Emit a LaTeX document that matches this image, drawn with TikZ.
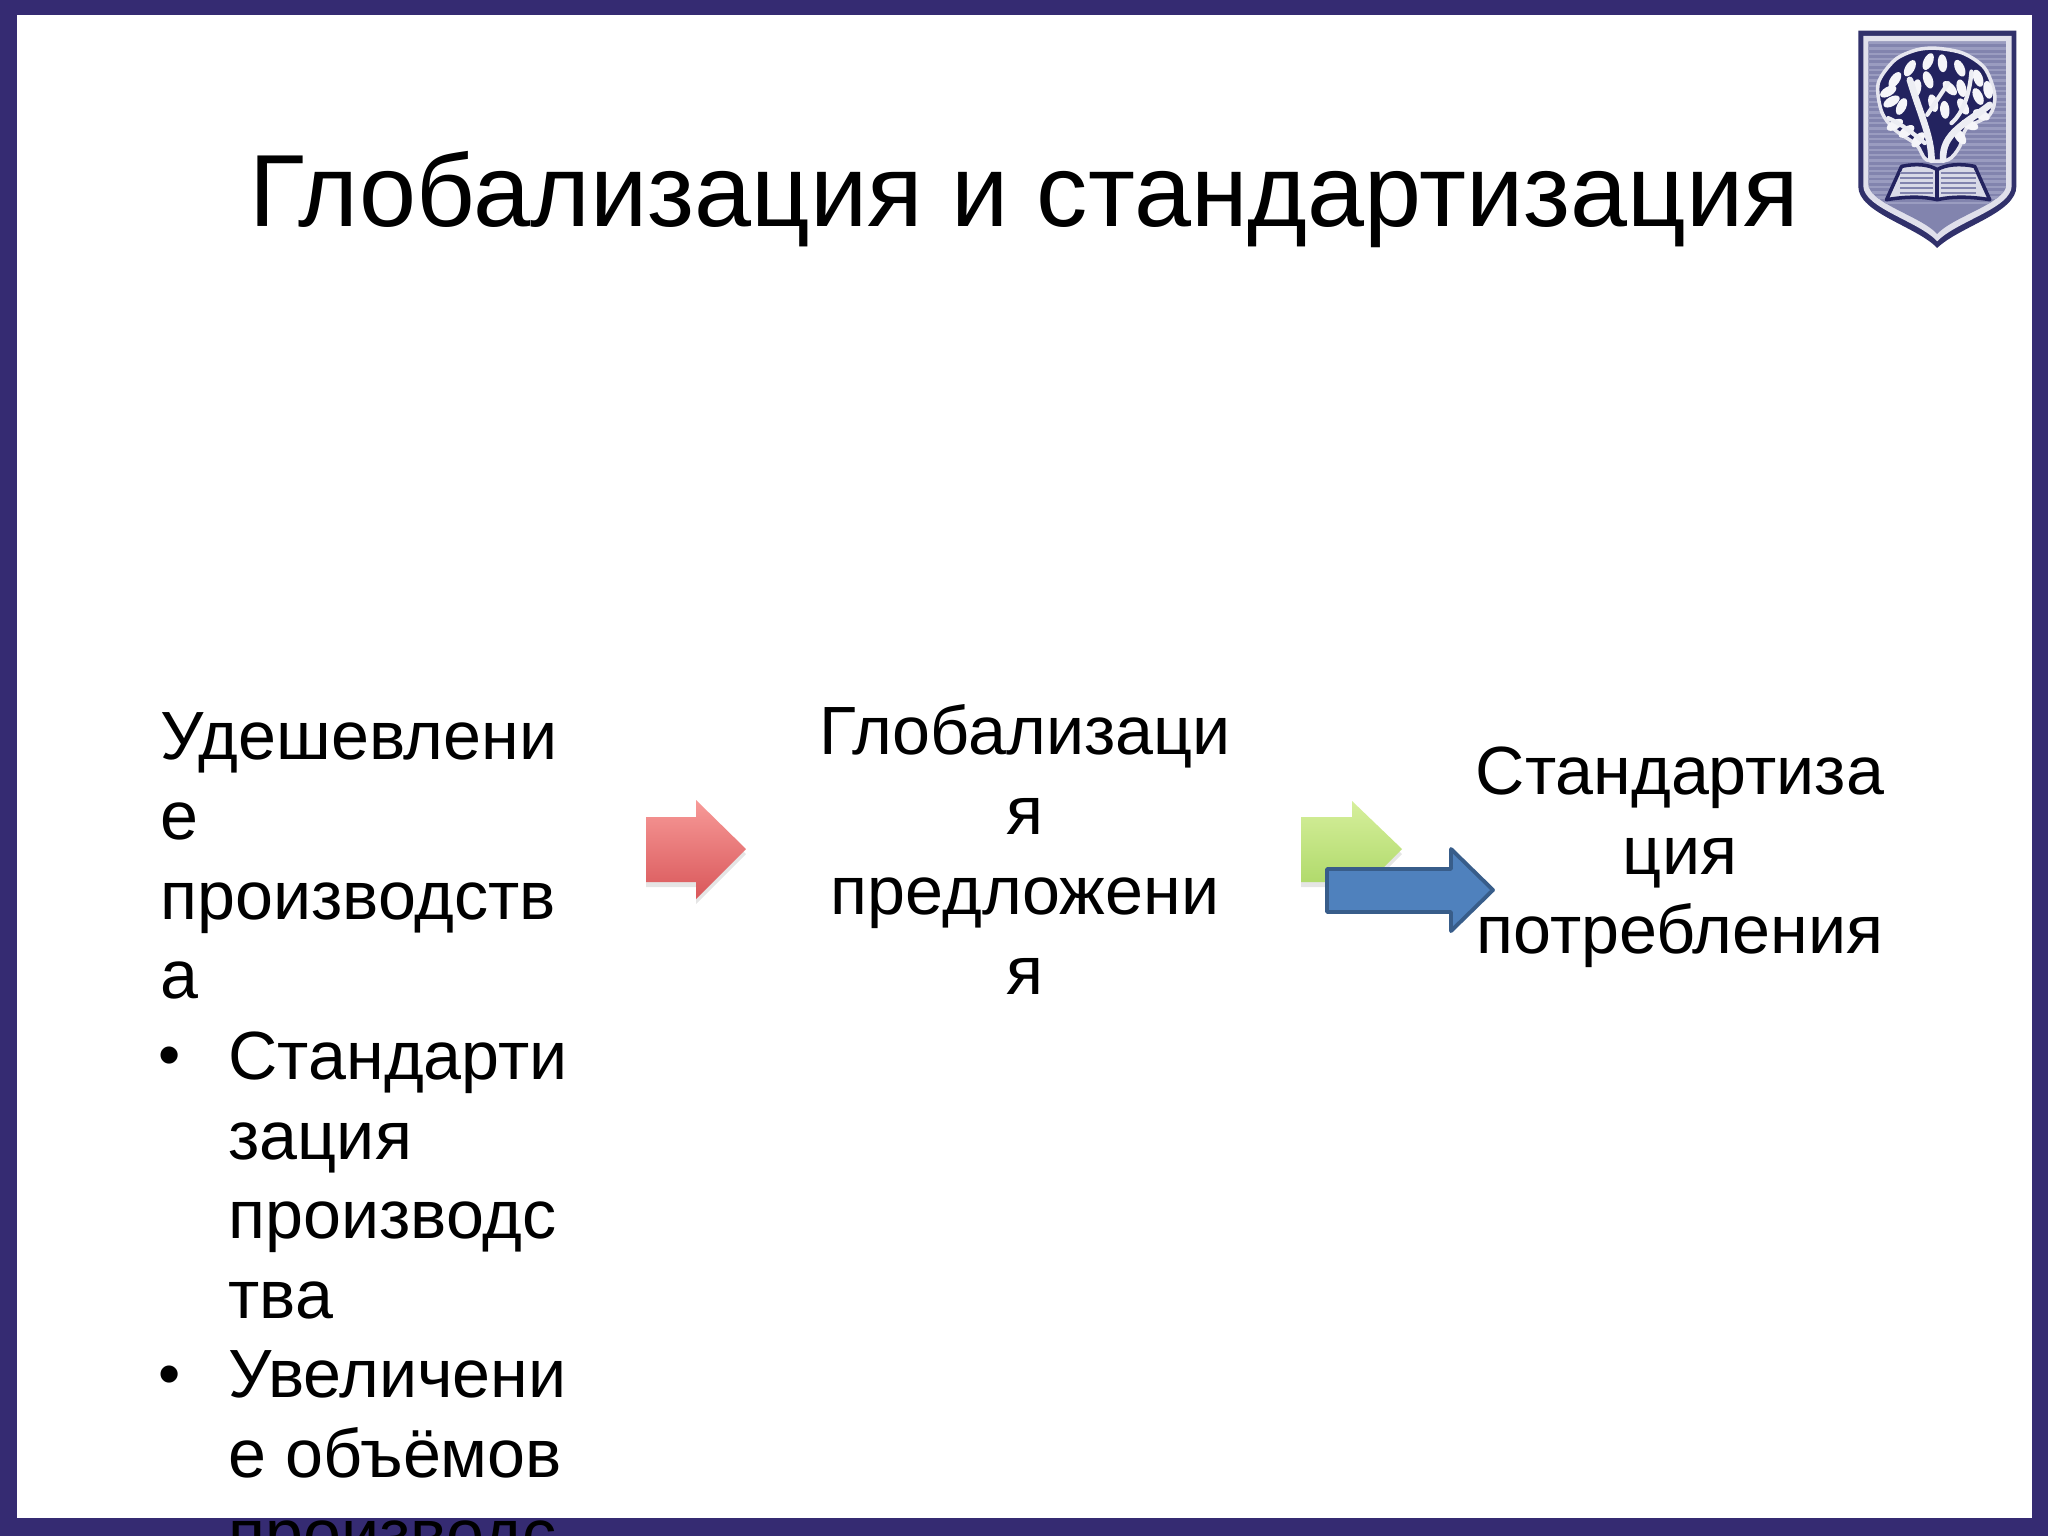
\documentclass[tikz,border=0pt]{standalone}
\usepackage{fontspec}
\setmainfont{Liberation Sans}
\definecolor{frameblue}{HTML}{352B72}
\definecolor{shielddark}{HTML}{23235F}
\definecolor{shieldmid}{HTML}{8284AE}
\definecolor{shieldlight}{HTML}{9A9CC0}
\definecolor{redtop}{HTML}{F79A98}
\definecolor{redbottom}{HTML}{D9575A}
\definecolor{greentop}{HTML}{D6EF9C}
\definecolor{greenbottom}{HTML}{A9D662}
\definecolor{bluefill}{HTML}{4F81BD}
\definecolor{blueedge}{HTML}{385D8A}
\tikzset{
	titletext/.style={font=\fontsize{29.15}{33}\selectfont, inner sep=0pt, anchor=base},
	bodytext/.style={font=\fontsize{19.4}{22.68}\selectfont, inner sep=0pt},
	dottext/.style={font=\fontsize{18}{20}\selectfont, inner sep=0pt, anchor=center},
	blockarrow/.style={line join=round},
	leaf/.style={fill=white!92!shieldmid, draw=none}
}
\begin{document}
\begin{tikzpicture}[x=0.01cm, y=-0.01cm]
	\clip (0,0) rectangle (2048,1536);
	
	% Frame
	\fill[frameblue] (0,0) rectangle (2048,1536);
	\fill[white] (17,15) rectangle (2032,1518);
	
	% Title
	\node[titletext] (title) at (1024,226) {Глобализация и стандартизация};
	
	% Left column
	\node[bodytext, anchor=north west, align=left] (cheaper) at (160,712) {Удешевлени\\е\\производств\\а};
	\node[bodytext, anchor=north west, align=left] (itemone) at (228,1031) {Стандарти\\зация\\производс\\тва};
	\node[bodytext, anchor=north west, align=left] (itemtwo) at (228,1350) {Увеличени\\е объёмов\\производс};
	\node[dottext] (dotone) at (170,1062) {•};
	\node[dottext] (dottwo) at (170,1381) {•};
	
	% Middle and right columns
	\node[bodytext, anchor=north, align=center] (supply) at (1025,704) {Глобализаци\\я\\предложени\\я};
	\node[bodytext, anchor=north, align=center] (demand) at (1680,746) {Стандартиза\\ция\\потребления};
	
	% Arrows
	\fill[black, opacity=0.1] (646,822) -- (696,822) -- (696,805) -- (746,854) -- (696,904) -- (696,887) -- (646,887) -- cycle;
	\shade[blockarrow, top color=redtop, bottom color=redbottom] (646,817) -- (696,817) -- (696,800) -- (746,849) -- (696,899) -- (696,882) -- (646,882) -- cycle;
	\fill[black, opacity=0.1] (1301,822) -- (1352,822) -- (1352,806) -- (1402,854) -- (1352,904) -- (1352,887) -- (1301,887) -- cycle;
	\shade[blockarrow, top color=greentop, bottom color=greenbottom] (1301,817) -- (1352,817) -- (1352,801) -- (1402,849) -- (1352,899) -- (1352,882) -- (1301,882) -- cycle;
	\filldraw[blockarrow, fill=bluefill, draw=blueedge, line width=1.1pt] (1327,869) -- (1451,869) -- (1451,849) -- (1493,890) -- (1451,931) -- (1451,912) -- (1327,912) -- cycle;
	
	% Shield
	\begin{scope}[shift={(1820,0)}, x=0.00333cm, y=-0.00333cm]
		\fill[shielddark!85!shieldmid] (115,92) -- (590,92) -- (590,560) .. controls (590,640) and (420,680) .. (352,745) .. controls (290,680) and (115,640) .. (115,560) -- cycle;
		\fill[white!75!shieldmid] (130,108) -- (576,108) -- (576,558) .. controls (576,625) and (410,665) .. (352,725) .. controls (298,665) and (130,625) .. (130,558) -- cycle;
		\begin{scope}
			\clip (145,124) -- (561,124) -- (561,552) .. controls (561,610) and (400,650) .. (352,703) .. controls (305,650) and (145,610) .. (145,552) -- cycle;
			\fill[shieldmid] (145,124) rectangle (561,710);
			\foreach \y in {130,146,...,620} {
				\draw[shieldlight, line width=0.7pt] (145,\y) -- (561,\y);
			}
		\end{scope}
		
		% Tree
		\filldraw[fill=shielddark, draw=white!80!shieldmid, line width=1pt] plot[smooth cycle] coordinates {(350,145) (430,160) (495,205) (525,285) (510,345) (440,385) (420,440) (385,480) (320,480) (290,435) (225,390) (185,335) (175,250) (225,180) (290,150)};
		\foreach \x/\y/\a in {368/190/5, 325/185/-25, 420/205/25, 475/235/20, 270/205/-30, 225/240/-35, 205/275/-60, 505/270/10, 475/290/25, 245/320/-25, 215/305/-60, 325/240/20, 390/265/45, 425/265/15, 340/310/15, 375/330/5, 430/320/30, 290/265/-10, 485/345/65, 225/375/-60, 260/395/-55, 295/420/-40, 450/375/70, 420/410/35}{
			\fill[leaf] (\x,\y) ellipse[x radius=14, y radius=27, rotate=\a];
		}
		\draw[white!85!shieldmid, line width=1.9pt, line cap=round] (335,480) .. controls (335,410) and (300,340) .. (270,240);
		\draw[white!85!shieldmid, line width=1.9pt, line cap=round] (370,480) .. controls (365,400) and (440,370) .. (510,315);
		\draw[white!85!shieldmid, line width=1.2pt, line cap=round] (322,345) -- (385,250);
		\draw[white!85!shieldmid, line width=1.2pt, line cap=round] (395,370) .. controls (430,340) and (450,280) .. (455,215);
		\draw[white!85!shieldmid, line width=1.2pt, line cap=round] (315,430) .. controls (280,400) and (240,370) .. (205,355);
		
		% Book
		\filldraw[fill=white!70!shieldmid, draw=shielddark, line width=1pt, line join=round] (245,500) .. controls (290,490) and (330,495) .. (352,510) .. controls (375,495) and (420,490) .. (465,500) -- (510,600) .. controls (450,590) and (395,590) .. (352,600) .. controls (310,590) and (260,590) .. (200,600) -- cycle;
		\foreach \y in {520,535,...,580} {
			\draw[shieldmid, line width=0.5pt] (240,\y) -- (340,\y);
			\draw[shieldmid, line width=0.5pt] (365,\y) -- (470,\y);
		}
		\draw[shielddark, line width=1.2pt] (352,505) -- (352,605);
	\end{scope}
\end{tikzpicture}
\end{document}
